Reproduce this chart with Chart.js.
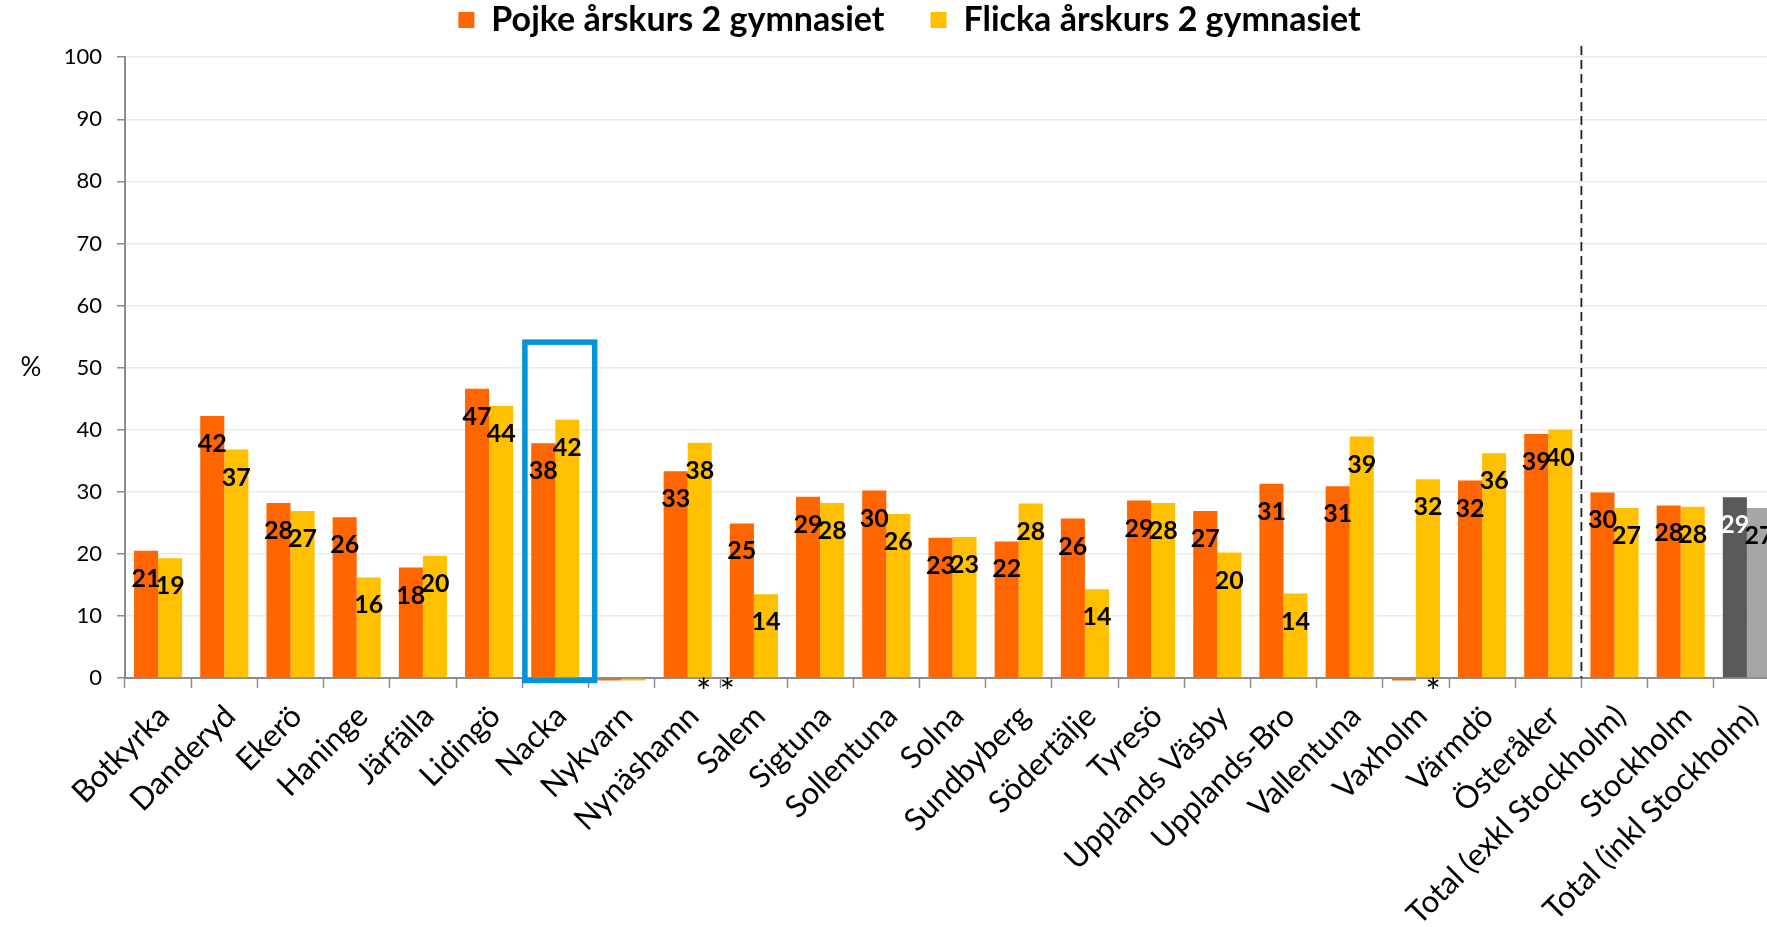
<!DOCTYPE html>
<html>
<head>
<meta charset="utf-8">
<script src="https://cdn.jsdelivr.net/npm/chart.js@4"></script>
<style>
  html, body { margin: 0; padding: 0; overflow: hidden; background: #fff; }
  #wrap { position: absolute; left: 0; top: 0; width: 1820px; height: 927px; }
</style>
</head>
<body>
<div id="wrap"><canvas id="chart"></canvas></div>
<script>
const categories = [
  "Botkyrka", "Danderyd", "Ekerö", "Haninge", "Järfälla", "Lidingö", "Nacka",
  "Nykvarn", "Nynäshamn", "Salem", "Sigtuna", "Sollentuna", "Solna",
  "Sundbyberg", "Södertälje", "Tyresö", "Upplands Väsby", "Upplands-Bro",
  "Vallentuna", "Vaxholm", "Värmdö", "Österåker", "Total (exkl Stockholm)",
  "Stockholm", "Total (inkl Stockholm)"
];
const pojke = [20.5, 42.2, 28.2, 25.9, 17.8, 46.6, 37.8, -0.4, 33.3, 24.9,
  29.2, 30.2, 22.6, 22.0, 25.7, 28.6, 26.9, 31.3, 30.9, -0.4, 31.8, 39.3,
  29.9, 27.8, 29.1];
const flicka = [19.3, 36.8, 26.9, 16.2, 19.7, 43.8, 41.6, -0.4, 37.9, 13.5,
  28.2, 26.4, 22.7, 28.1, 14.3, 28.2, 20.2, 13.6, 38.9, 32.0, 36.2, 40.0,
  27.4, 27.6, 27.4];
const yTicks = [0, 10, 20, 30, 40, 50, 60, 70, 80, 90, 100];

const last = categories.length - 1;
const FONT = "Lato";

// value labels, highlight box, divider, asterisks and the % sign
const extras = {
  id: "extras",
  afterDatasetsDraw(chart) {
    const { ctx, chartArea, scales: { x, y } } = chart;
    const catW = x.getPixelForValue(1) - x.getPixelForValue(0);
    ctx.save();

    ctx.font = "bold 25px " + FONT;
    ctx.textAlign = "center";
    ctx.textBaseline = "middle";
    chart.data.datasets.forEach((ds, i) => {
      chart.getDatasetMeta(i).data.forEach((bar, j) => {
        const v = ds.data[j];
        if (v < 1) return;
        ctx.fillStyle = (i === 0 && j === last) ? "#fff" : "#000";
        ctx.fillText(Math.round(v), bar.x, bar.y + 28);
      });
    });

    // blue frame around Nacka
    const cx = x.getPixelForValue(6) + 4.5;
    const top = y.getPixelForValue(54.1);
    const bottom = y.getPixelForValue(-0.4);
    ctx.strokeStyle = "#0096d6";
    ctx.lineWidth = 5.5;
    ctx.strokeRect(cx - 0.527 * catW, top, 2 * 0.527 * catW, bottom - top);

    // dashed divider before the totals
    const dx = (x.getPixelForValue(21) + x.getPixelForValue(22)) / 2;
    ctx.strokeStyle = "#222";
    ctx.lineWidth = 1.8;
    ctx.setLineDash([9, 5]);
    ctx.beginPath();
    ctx.moveTo(dx, y.getPixelForValue(101.8));
    ctx.lineTo(dx, chartArea.bottom);
    ctx.stroke();
    ctx.setLineDash([]);

    // asterisks under the axis
    ctx.fillStyle = "#000";
    ctx.font = "36px " + FONT;
    ctx.textBaseline = "alphabetic";
    [[8, 0.24], [9, -0.4], [19, 0.26]].forEach(([i, off]) => {
      ctx.fillText("*", x.getPixelForValue(i) + off * catW, chartArea.bottom + 27);
    });

    // axis unit
    ctx.font = "26px " + FONT;
    ctx.textBaseline = "middle";
    ctx.fillText("%", 31, y.getPixelForValue(50));
    ctx.restore();
  }
};

const ctx = document.getElementById("chart");
new Chart(ctx, {
  type: "bar",
  data: {
    labels: categories,
    datasets: [
      {
        label: "Pojke årskurs 2 gymnasiet",
        data: pojke,
        backgroundColor: (c) => c.dataIndex === last ? "#595959" : "#ff6600",
        clip: false,
      },
      {
        label: "Flicka årskurs 2 gymnasiet",
        data: flicka,
        backgroundColor: (c) => c.dataIndex === last ? "#a6a6a6" : "#ffc000",
        clip: false,
      },
    ],
  },
  options: {
    responsive: true,
    maintainAspectRatio: false,
    devicePixelRatio: 1,
    animation: { duration: 0 },
    datasets: { bar: { categoryPercentage: 0.727, barPercentage: 1.0 } },
    layout: { padding: { left: 39, right: 40, top: -43, bottom: 0 } },
    plugins: {
      tooltip: { enabled: false },
      legend: {
        position: "top",
        labels: {
          color: "#000",
          font: { family: FONT, size: 34, weight: "bold" },
          boxWidth: 16,
          boxHeight: 16,
          padding: 46,
        },
      },
      title: {
        display: true,
        text: "",
        weight: 500,
        font: { size: 1 },
        padding: { top: 0, bottom: 9 },
      },
    },
    scales: {
      x: {
        grid: {
          display: true,
          drawOnChartArea: false,
          tickLength: 10,
          tickColor: "#8c8c8c",
          tickWidth: 1.5,
        },
        border: { color: "#8c8c8c", width: 2 },
        ticks: {
          autoSkip: false,
          maxRotation: 45,
          minRotation: 45,
          color: "#000",
          padding: 10,
          labelOffset: 6,
          font: { family: FONT, size: 31 },
        },
        afterFit(scale) { scale.height = 249; },
      },
      y: {
        min: 0,
        max: 100,
        afterBuildTicks(scale) { scale.ticks = yTicks.map((v) => ({ value: v })); },
        grid: {
          color: "#ebebeb",
          lineWidth: 1.5,
          tickLength: 8,
          tickColor: "#8c8c8c",
        },
        border: { color: "#8c8c8c", width: 2 },
        ticks: {
          color: "#000",
          padding: 15,
          font: { family: FONT, size: 22 },
        },
        afterFit(scale) { scale.width = 86; },
      },
    },
  },
  plugins: [extras],
});
</script>
</body>
</html>
